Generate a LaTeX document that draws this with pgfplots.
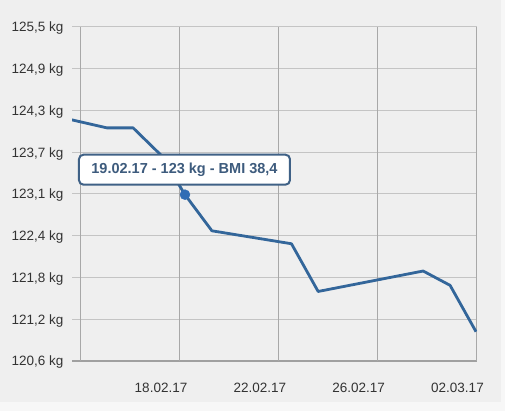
\documentclass[border=0pt]{standalone}
\usepackage{pgfplots}
\pgfplotsset{compat=1.18}
\usepackage{fontspec}
\setmainfont{Liberation Sans}
\definecolor{bg}{HTML}{EFEFEF}
\definecolor{strip}{HTML}{F7F7F7}
\definecolor{linec}{HTML}{33669A}
\definecolor{markc}{HTML}{2F6DB5}
\definecolor{tipc}{HTML}{3F6186}
\definecolor{tiptext}{HTML}{3D5B7D}
\definecolor{hgrid}{HTML}{C4C4C4}
\definecolor{vgrid}{HTML}{A8A8A8}
\definecolor{baseax}{HTML}{A0A0A0}
\definecolor{lab}{HTML}{333333}
\begin{document}
\begin{tikzpicture}[x=1pt,y=1pt]
\useasboundingbox (0,0) rectangle (505,411);
\fill[bg] (0,0) rectangle (505,411);
\fill[strip] (0,0) rectangle (505,9);
\fill[strip] (501,9) rectangle (505,411);
\begin{axis}[
  at={(72pt,50pt)}, anchor=south west,
  scale only axis, width=405pt, height=334pt,
  xmin=0.397, xmax=16.79,
  ymin=120.6, ymax=125.5,
  axis x line*=bottom,
  axis y line*=left,
  x axis line style={draw=baseax, line width=2pt},
  y axis line style={draw=none},
  xtick={4,8,12,16},
  xticklabels={18.02.17,22.02.17,26.02.17,02.03.17},
  xtick style={draw=none},
  extra x ticks={0.75,4.75,8.75,12.75,16.75},
  extra x tick labels={},
  extra x tick style={xmajorgrids=true, tick align=outside, major tick length=7pt,
     tick style={draw=vgrid, line width=1pt}},
  x grid style={draw=vgrid, line width=1pt},
  ytick={120.6,121.2125,121.825,122.4375,123.05,123.6625,124.275,124.8875,125.5},
  yticklabels={{120,6 kg},{121,2 kg},{121,8 kg},{122,4 kg},{123,1 kg},{123,7 kg},{124,3 kg},{124,9 kg},{125,5 kg}},
  ymajorgrids=true,
  y grid style={draw=hgrid, line width=1pt},
  ytick style={draw=none},
  tick label style={font=\fontsize{13.5}{15}\selectfont, text=lab, inner sep=0pt},
  xticklabel style={anchor=center, yshift=-26.5pt},
  yticklabel style={anchor=base east, xshift=-8.5pt, yshift=-4.85pt},
  /pgf/number format/assume math mode=true,
]
\addplot[linec, line width=2.8pt, line join=round] coordinates {
 (0,124.17) (1.81,124.02) (2.87,124.02) (4.00,123.62) (4.97,123.04)
 (6.06,122.51) (9.28,122.32) (10.36,121.62) (14.61,121.92) (15.70,121.71) (16.75,121.03)
};
\addplot[only marks, mark=*, mark size=5pt, color=markc] coordinates {(4.97,123.04)};
\node[draw=tipc, line width=2pt, fill=white, rounded corners=4.5pt,
  minimum width=211pt, minimum height=30pt, inner sep=0pt,
  font=\fontsize{14.5}{16}\selectfont\bfseries, text=tiptext,
  xshift=-0.5pt, yshift=25pt] at (axis cs:4.97,123.04) {19.02.17 - 123 kg - BMI 38,4};
\end{axis}
\end{tikzpicture}
\end{document}
